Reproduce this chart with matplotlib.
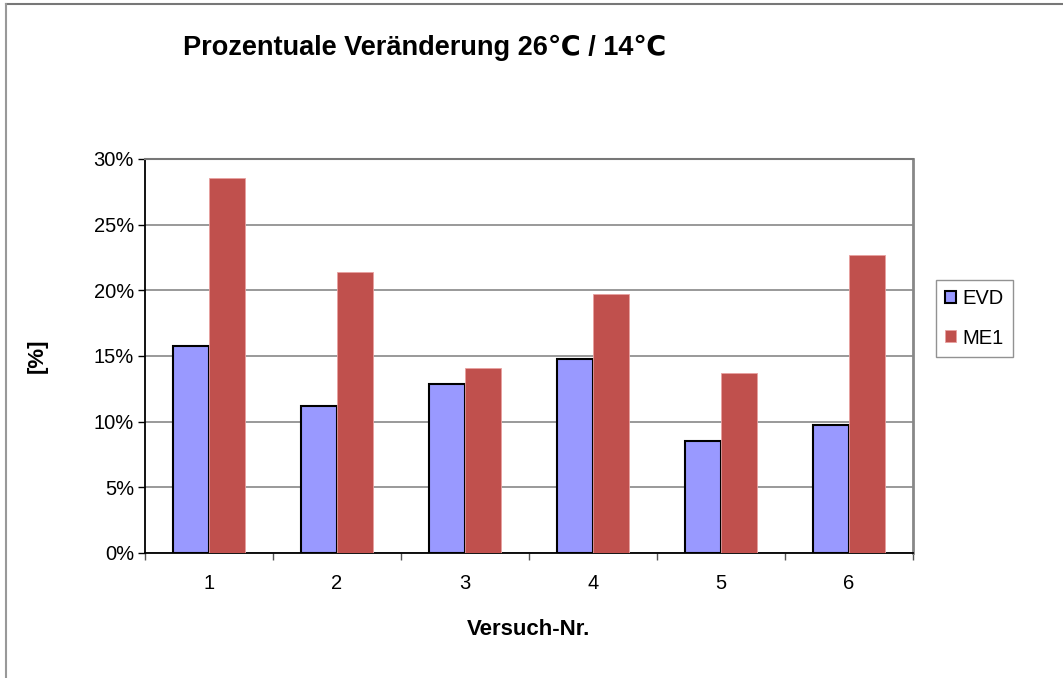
import matplotlib
matplotlib.use("Agg")
import matplotlib.pyplot as plt
import numpy as np
from matplotlib.lines import Line2D
from matplotlib.ticker import FuncFormatter, FixedLocator

plt.rcParams['font.family'] = ['Liberation Sans', 'DejaVu Sans']

versuche = ['1', '2', '3', '4', '5', '6']
evd = [15.76, 11.18, 12.9, 14.8, 8.49, 9.76]
me1 = [28.53, 21.36, 14.1, 19.7, 13.7, 22.7]

fig = plt.figure(figsize=(10.63, 6.78), dpi=100)
ax = fig.add_axes([0.1364, 0.1844, 0.7225, 0.5811])

x = np.arange(len(versuche))
w = 0.28
ax.bar(x - w / 2, evd, w, color='#9999FF', edgecolor='black', linewidth=1.5, label='EVD', zorder=3)
ax.bar(x + w / 2, me1, w, color='#C0504D', edgecolor='#E8A0A0', linewidth=0.6, label='ME1', zorder=3)

ax.set_xlim(-0.5, len(versuche) - 0.5)
ax.set_ylim(0, 30)
ax.set_yticks(np.arange(0, 31, 5))
ax.yaxis.set_major_formatter(FuncFormatter(lambda v, p: f'{v:.0f}%'))
ax.yaxis.grid(True, color='#888888', linewidth=1.2, zorder=0)

# category labels at the centres, tick marks at the boundaries
ax.set_xticks(x)
ax.set_xticklabels(versuche)
ax.tick_params(axis='x', which='major', length=0, pad=15, labelsize=14.5)
ax.xaxis.set_minor_locator(FixedLocator(np.arange(-0.5, len(versuche), 1)))
ax.tick_params(axis='x', which='minor', length=5, width=1, color='#555555')
ax.tick_params(axis='y', length=5, width=1, labelsize=14.5, pad=3)

for side in ['left', 'bottom']:
    ax.spines[side].set_color('black')
    ax.spines[side].set_linewidth(1.3)
ax.spines['right'].set_color('#888888')
ax.spines['right'].set_linewidth(2)
ax.spines['top'].set_color('#777777')
ax.spines['top'].set_linewidth(1.5)

ax.set_xlabel('Versuch-Nr.', fontsize=16, fontweight='bold', labelpad=19)
ax.set_ylabel('[%]', fontsize=16, fontweight='bold', labelpad=33)

fig.text(0.172, 0.929, 'Prozentuale Veränderung 26℃ / 14℃', fontsize=19.5,
         fontweight='bold', ha='left', va='center')

leg = ax.legend(loc='upper left', bbox_to_anchor=(1.03, 0.692), fontsize=14.5,
                frameon=True, fancybox=False, handlelength=0.55, handleheight=0.55,
                handletextpad=0.3, labelspacing=1.0, borderpad=0.45, borderaxespad=0)
leg.get_frame().set_edgecolor('#777777')
leg.get_frame().set_linewidth(1)

# outer frame: top and left edges only
fig.add_artist(Line2D([6 / 1063, 1], [1 - 4 / 678, 1 - 4 / 678], color='#777777', linewidth=1.5,
                      transform=fig.transFigure))
fig.add_artist(Line2D([6 / 1063, 6 / 1063], [0, 1 - 4 / 678], color='#999999', linewidth=1.5,
                      transform=fig.transFigure))

fig.savefig('out.png', dpi=100)
